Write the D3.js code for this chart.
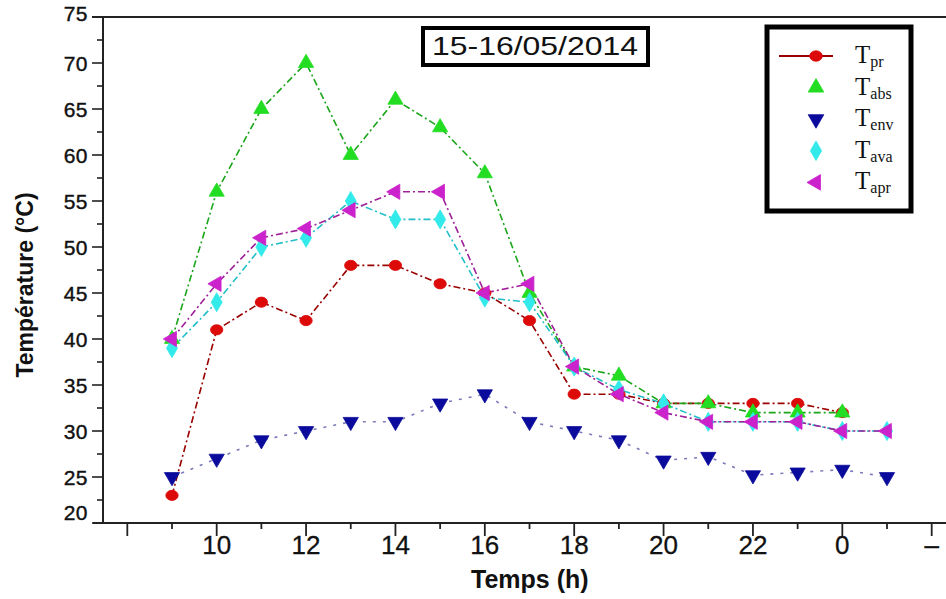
<!DOCTYPE html>
<html><head><meta charset="utf-8">
<script src="https://cdn.jsdelivr.net/npm/d3@7"></script>
<style>
html,body{margin:0;padding:0;background:#fff;}
svg{display:block;}
</style></head>
<body>
<svg id="chart" width="946" height="599"></svg>
<script>
// ---- data ----
const hours = [9,10,11,12,13,14,15,16,17,18,19,20,21,22,23,24,25];
const Tpr  = [23,41,44,42,48,48,46,45,42,34,34,33,33,33,33,32,null];
const Tabs = [40,56,65,70,60,66,63,58,45,37,36,33,33,32,32,32,null];
const Tenv = [25,27,29,30,31,31,33,34,31,30,29,26.8,27.2,25.2,25.5,25.8,25];
const Tava = [39,44,50,51,55,53,53,44.5,44,37,34.5,33,31,31,31,30,30];
const Tapr = [40,46,51,52,54,56,56,45,46,37,34,32,31,31,31,30,30];
const xTickValues = [10,12,14,16,18,20,22,24,26];
const xTickLabels = ["10","12","14","16","18","20","22","0","–"];
const yTickValues = [20,25,30,35,40,45,50,55,60,65,70,75];
const seriesNames = ["pr","abs","env","ava","apr"];
const titleText = "15-16/05/2014";

const series = [
  {name:"pr",  values:Tpr,  fill:"#dd0a0a", line:"#9a0000", sym:d3.symbolCircle,   rot:0,   dash:"7,3,2,3"},
  {name:"abs", values:Tabs, fill:"#22dd22", line:"#1aa51a", sym:d3.symbolTriangle, rot:0,   dash:"7,3,2,3"},
  {name:"env", values:Tenv, fill:"#0a0a9c", line:"#7a7ab8", sym:d3.symbolTriangle, rot:180, dash:"3,7"},
  {name:"ava", values:Tava, fill:"#33eaea", line:"#22bfc8", sym:d3.symbolDiamond,  rot:0,   dash:"7,3,2,3"},
  {name:"apr", values:Tapr, fill:"#cc22cc", line:"#a0209a", sym:d3.symbolTriangle, rot:-90, dash:"7,3,2,3"}
];

const svg = d3.select("#chart");
const x = d3.scaleLinear().domain([7.456, 26.32]).range([103, 946]);
const y = d3.scaleLinear().domain([20, 75]).range([523, 17]);
const narrow = "'Liberation Sans Narrow','Liberation Sans',Arial,sans-serif";
const sans = "'Liberation Sans',Arial,sans-serif";

// top frame line
svg.append("line").attr("x1",92).attr("x2",946).attr("y1",y(75)).attr("y2",y(75))
  .attr("stroke","#222").attr("stroke-width",1.8);

// y axis
const yAxis = svg.append("g").attr("transform",`translate(${x(7.456)},0)`);
yAxis.append("line").attr("y1",y(75)).attr("y2",y(20)).attr("stroke","#222").attr("stroke-width",2);
d3.range(20,75.1,2.5).forEach(v=>{
  const major = (v%5===0);
  yAxis.append("line").attr("x1",major?-11:-6).attr("x2",0).attr("y1",y(v)).attr("y2",y(v))
    .attr("stroke","#222").attr("stroke-width",1.6);
});
yTickValues.forEach(v=>{
  let dy = 0;
  if (v===75) dy = -4;
  if (v===20) dy = -11;
  yAxis.append("text").attr("x",-15).attr("y",y(v)+dy).attr("dy","0.36em")
    .attr("text-anchor","end").attr("font-family",sans).attr("font-size",21)
    .attr("letter-spacing",0.5)
    .attr("fill","#111").attr("stroke","#111").attr("stroke-width",0.4).text(v);
});

// x axis
const xAxis = svg.append("g").attr("transform",`translate(0,${y(20)})`);
xAxis.append("line").attr("x1",x(7.456)-10).attr("x2",946).attr("stroke","#222").attr("stroke-width",2.2);
d3.range(8,26.1,1).forEach(h=>{
  const major = (h%2===0);
  xAxis.append("line").attr("x1",x(h)).attr("x2",x(h)).attr("y1",0).attr("y2",major?13:6)
    .attr("stroke","#222").attr("stroke-width",1.8);
});
xTickValues.forEach((h,i)=>{
  xAxis.append("text").attr("x",x(h)).attr("y",31).attr("text-anchor","middle")
    .attr("font-family",narrow).attr("font-size",26).attr("fill","#111")
    .attr("stroke","#111").attr("stroke-width",0.3).text(xTickLabels[i]);
});

// axis titles
svg.append("text").attr("x",x(16)+45).attr("y",588).attr("text-anchor","middle")
  .attr("font-family",sans).attr("font-weight","bold")
  .attr("font-size",25).attr("fill","#111").text("Temps (h)");
svg.append("text").attr("transform","translate(33,285) rotate(-90)").attr("text-anchor","middle")
  .attr("font-family",sans).attr("font-weight","bold")
  .attr("font-size",23).attr("fill","#111").text("Température (°C)");

// series
const plot = svg.append("g");
series.forEach(s=>{
  const pts = hours.map((h,i)=>({h, v:s.values[i]}));
  const line = d3.line().defined(d=>d.v!==null).x(d=>x(d.h)).y(d=>y(d.v));
  plot.append("path").datum(pts).attr("d",line).attr("fill","none")
    .attr("stroke",s.line).attr("stroke-width",1.6).attr("stroke-dasharray",s.dash);
});
series.forEach(s=>{
  const pts = hours.map((h,i)=>({h, v:s.values[i]})).filter(d=>d.v!==null);
  const size = s.sym===d3.symbolCircle ? 90 : (s.sym===d3.symbolDiamond ? 105 : 100);
  const path = d3.symbol().type(s.sym).size(size)();
  plot.selectAll(null).data(pts).enter().append("path")
    .attr("d",path)
    .attr("transform",d=>`translate(${x(d.h)},${y(d.v)}) rotate(${s.rot})${s.sym===d3.symbolCircle?" scale(1.15,0.95)":""}`)
    .attr("fill",s.fill).attr("stroke",s.fill).attr("stroke-width",0.8);
});

// title box
svg.append("rect").attr("x",423).attr("y",28).attr("width",225).attr("height",37)
  .attr("fill","#fff").attr("stroke","#000").attr("stroke-width",4);
svg.append("text").attr("x",535).attr("y",55).attr("text-anchor","middle")
  .attr("font-family",sans).attr("font-size",25)
  .attr("textLength",206).attr("lengthAdjust","spacingAndGlyphs")
  .attr("fill","#111").text(titleText);

// legend
const lg = svg.append("g");
lg.append("rect").attr("x",767).attr("y",27).attr("width",144).attr("height",184)
  .attr("fill","#fff").attr("stroke","#000").attr("stroke-width",5);
series.forEach((s,i)=>{
  const cy = 56 + i*31.6;
  if (i===0) {
    lg.append("line").attr("x1",779).attr("x2",833).attr("y1",cy).attr("y2",cy)
      .attr("stroke",s.line).attr("stroke-width",2);
  }
  const size = s.sym===d3.symbolCircle ? 95 : (s.sym===d3.symbolDiamond ? 110 : 105);
  lg.append("path").attr("d",d3.symbol().type(s.sym).size(size)())
    .attr("transform",`translate(816,${cy}) rotate(${s.rot})${s.sym===d3.symbolCircle?" scale(1.15,0.95)":""}`)
    .attr("fill",s.fill).attr("stroke",s.fill).attr("stroke-width",0.8);
  const t = lg.append("text").attr("x",855).attr("y",cy+7)
    .attr("font-family","'Liberation Serif','Times New Roman',serif").attr("fill","#111");
  t.append("tspan").attr("font-size",25).text("T");
  t.append("tspan").attr("font-size",16).attr("dy",4).text(seriesNames[i]);
});
</script>
</body></html>
